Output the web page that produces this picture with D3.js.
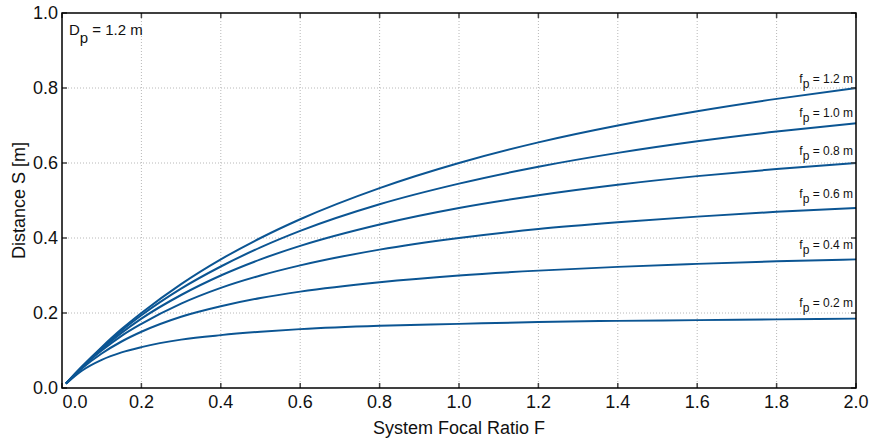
<!DOCTYPE html>
<html>
<head>
<meta charset="utf-8">
<style>
    body { margin: 0; background: #fff; }
    svg { display: block; font-family: "Liberation Sans", Arial, sans-serif; }
</style>
<script src="https://d3js.org/d3.v7.min.js"></script>
</head>
<body>
<svg width="873" height="439"></svg>
<script>
    // focal ratio samples along the x axis
    const focalRatio = [0.01, 0.05, 0.1, 0.15, 0.2, 0.3, 0.4, 0.5, 0.6, 0.8, 1.0, 1.2, 1.4, 1.6, 1.8, 2.0];

    // distance S [m], one list per f_p
    const fp02 = [0.011, 0.046, 0.075, 0.095, 0.109, 0.129, 0.141, 0.150, 0.157, 0.166, 0.171, 0.176, 0.179, 0.181, 0.183, 0.185];
    const fp04 = [0.012, 0.052, 0.092, 0.124, 0.150, 0.190, 0.218, 0.240, 0.257, 0.282, 0.300, 0.313, 0.323, 0.331, 0.338, 0.343];
    const fp06 = [0.012, 0.055, 0.100, 0.139, 0.171, 0.225, 0.267, 0.300, 0.327, 0.369, 0.400, 0.424, 0.442, 0.457, 0.470, 0.480];
    const fp08 = [0.012, 0.056, 0.104, 0.147, 0.185, 0.248, 0.300, 0.343, 0.379, 0.436, 0.480, 0.514, 0.542, 0.565, 0.584, 0.600];
    const fp10 = [0.012, 0.057, 0.107, 0.153, 0.194, 0.265, 0.324, 0.375, 0.419, 0.490, 0.545, 0.590, 0.627, 0.658, 0.684, 0.706];
    const fp12 = [0.012, 0.057, 0.109, 0.157, 0.200, 0.277, 0.343, 0.400, 0.450, 0.533, 0.600, 0.655, 0.700, 0.738, 0.771, 0.800];

    const seriesNames = ["0.2", "0.4", "0.6", "0.8", "1.0", "1.2"];
    const seriesValues = [fp02, fp04, fp06, fp08, fp10, fp12];

    const xTicks = [0, 0.2, 0.4, 0.6, 0.8, 1.0, 1.2, 1.4, 1.6, 1.8, 2.0];
    const yTicks = [0, 0.2, 0.4, 0.6, 0.8, 1.0];

    // label offsets above the curve ends (px)
    const labelDy = [-12, -10, -10, -8, -6, -5];

    const width = 873, height = 439;
    const margin = {top: 13, right: 17, bottom: 51, left: 62};
    const color = "#0b5593";

    const svg = d3.select("svg");

    const x = d3.scaleLinear().domain([0, 2]).range([margin.left, width - margin.right]);
    const y = d3.scaleLinear().domain([0, 1]).range([height - margin.bottom, margin.top]);

    // grid
    const grid = svg.append("g")
        .attr("stroke", "#b8b8b8")
        .attr("stroke-width", 1)
        .attr("stroke-dasharray", "1,2");
    grid.selectAll(".vx").data(xTicks.slice(1, -1)).join("line")
        .attr("x1", d => x(d)).attr("x2", d => x(d))
        .attr("y1", y(0)).attr("y2", y(1));
    grid.selectAll(".hy").data(yTicks.slice(1, -1)).join("line")
        .attr("x1", x(0)).attr("x2", x(2))
        .attr("y1", d => y(d)).attr("y2", d => y(d));

    // curves
    const line = d3.line()
        .x((d, i) => x(focalRatio[i]))
        .y(d => y(d))
        .curve(d3.curveMonotoneX);

    svg.append("g")
        .selectAll("path")
        .data(seriesValues)
        .join("path")
        .attr("fill", "none")
        .attr("stroke", color)
        .attr("stroke-width", 2)
        .attr("d", line);

    // inner ticks on all four sides
    const ticks = svg.append("g").attr("stroke", "#444").attr("stroke-width", 1.5);
    const tk = 5;
    ticks.selectAll(".b").data(xTicks).join("line")
        .attr("x1", d => x(d)).attr("x2", d => x(d))
        .attr("y1", y(0)).attr("y2", y(0) - tk);
    ticks.selectAll(".t").data(xTicks).join("line")
        .attr("x1", d => x(d)).attr("x2", d => x(d))
        .attr("y1", y(1)).attr("y2", y(1) + tk);
    ticks.selectAll(".l").data(yTicks).join("line")
        .attr("x1", x(0)).attr("x2", x(0) + tk)
        .attr("y1", d => y(d)).attr("y2", d => y(d));
    ticks.selectAll(".r").data(yTicks).join("line")
        .attr("x1", x(2)).attr("x2", x(2) - tk)
        .attr("y1", d => y(d)).attr("y2", d => y(d));

    // axis box
    svg.append("rect")
        .attr("x", x(0)).attr("y", y(1))
        .attr("width", x(2) - x(0)).attr("height", y(0) - y(1))
        .attr("fill", "none")
        .attr("stroke", "#000")
        .attr("stroke-width", 1.5);

    // tick labels
    svg.append("g")
        .selectAll("text")
        .data(xTicks)
        .join("text")
        .attr("x", (d, i) => x(d) + (i === 0 ? 13 : 0))
        .attr("y", y(0) + 20)
        .attr("text-anchor", "middle")
        .attr("font-size", 18)
        .attr("fill", "#111")
        .text(d => d.toFixed(1));

    svg.append("g")
        .selectAll("text")
        .data(yTicks)
        .join("text")
        .attr("x", x(0) - 4)
        .attr("y", d => y(d))
        .attr("dy", "0.36em")
        .attr("text-anchor", "end")
        .attr("font-size", 18)
        .attr("fill", "#111")
        .text(d => d.toFixed(1));

    // axis titles
    svg.append("text")
        .attr("x", (x(0) + x(2)) / 2)
        .attr("y", height - 5)
        .attr("text-anchor", "middle")
        .attr("font-size", 18)
        .attr("fill", "#111")
        .text("System Focal Ratio F");

    svg.append("text")
        .attr("transform", `translate(25,${(y(0) + y(1)) / 2}) rotate(-90)`)
        .attr("text-anchor", "middle")
        .attr("font-size", 18)
        .attr("fill", "#111")
        .text("Distance S [m]");

    // D_p annotation
    const dp = svg.append("text")
        .attr("x", x(0) + 7)
        .attr("y", y(1) + 22)
        .attr("font-size", 15)
        .attr("fill", "#111");
    dp.append("tspan").text("D");
    dp.append("tspan").attr("dy", 8).attr("font-size", 15).text("p");
    dp.append("tspan").attr("dy", -8).text(" = 1.2 m");

    // curve labels at the right end
    const lab = svg.append("g")
        .selectAll("text")
        .data(seriesNames)
        .join("text")
        .attr("x", x(2) - 3)
        .attr("y", (d, i) => y(seriesValues[i][seriesValues[i].length - 1]) + labelDy[i])
        .attr("text-anchor", "end")
        .attr("font-size", 12)
        .attr("fill", "#111");
    lab.append("tspan").text("f");
    lab.append("tspan").attr("dy", 5).text("p");
    lab.append("tspan").attr("dy", -5).text(d => ` = ${d} m`);
</script>
</body>
</html>
